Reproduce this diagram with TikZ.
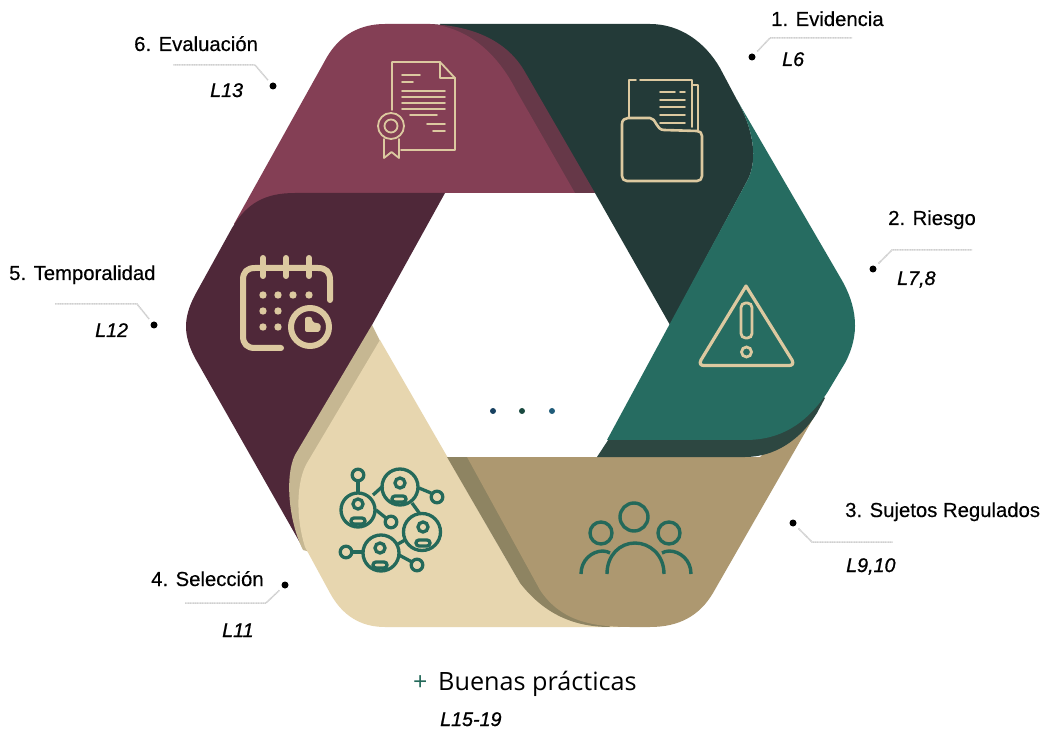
\documentclass[tikz,border=0pt]{standalone}
\usepackage{fontspec}
\setmainfont[FakeBold=0.3]{Liberation Sans}
\newfontfamily\reffont[ItalicFeatures={FakeBold=0.9}]{Liberation Sans}
\newfontfamily\buenasfont{Open Sans}
\definecolor{cdark}{HTML}{233A38}
\definecolor{cmaroon}{HTML}{843F55}
\definecolor{cmaroonsh}{HTML}{663848}
\definecolor{cplum}{HTML}{4F2839}
\definecolor{ccream}{HTML}{E7D6AF}
\definecolor{ccreamsh}{HTML}{C6B792}
\definecolor{ctan}{HTML}{AD9870}
\definecolor{ctansh}{HTML}{8E8462}
\definecolor{cteal}{HTML}{266C61}
\definecolor{ctealsh}{HTML}{2D4741}
\definecolor{cicon}{HTML}{DCC9A0}
\definecolor{cgreen}{HTML}{24695A}
\definecolor{cleader}{HTML}{CFCFCF}
\tikzset{
  iconthin/.style={draw=cicon,line width=1.8pt,line cap=round,line join=round},
  iconmid/.style={draw=cicon,line width=2.6pt,line cap=round,line join=round},
  iconfat/.style={draw=cicon,line width=6pt,line cap=round,line join=round},
  greenline/.style={draw=cgreen,line width=3.4pt,line cap=butt,line join=round},
  netline/.style={draw=cgreen,line width=3.3pt},
  mark dot/.style={circle,fill=black,inner sep=0pt,minimum size=7pt},
  leaderline/.style={draw=cleader,line width=1.5pt,shorten <=4pt,dash pattern=on 1.2pt off 0.5pt},
  lbl/.style={anchor=base west,inner sep=0pt,font=\fontsize{20.3}{24}\selectfont},
  ref/.style={anchor=base west,inner sep=0pt,font=\reffont\fontsize{19.7}{24}\selectfont\itshape},
}
\begin{document}
\begin{tikzpicture}[x=1pt,y=-1pt]
\useasboundingbox (0,0) rectangle (1045,735);
\fill[white] (0,0) rectangle (1045,735);
% dark band
\fill[cdark] (440,24) -- (650,24) .. controls (680,24) and (705,42) .. (720,68) -- (737,100)
  .. controls (752,126) and (760,160) .. (746,183) -- (670,325) -- (595,193) -- (500,150) -- cycle;
% maroon band
\fill[cmaroonsh] (430,24) .. controls (475,26) and (508,42) .. (525,72) -- (595,193) -- (500,193) -- (430,100) -- cycle;
\fill[cmaroon] (234,224) -- (327,57) .. controls (340,35) and (360,24) .. (385,24) -- (430,24)
  .. controls (470,28) and (498,55) .. (516,90) -- (575,193) -- (350,193) -- (350,230) -- cycle;
% plum band
\fill[cplum] (445,193) -- (295,193) .. controls (265,193) and (247,203) .. (232,228) -- (195,295)
  .. controls (183,318) and (183,335) .. (195,358) -- (303,548) -- (340,500) -- (372,325) -- cycle;
% cream band
\fill[ccreamsh] (372,325) -- (295,455) .. controls (285,475) and (288,520) .. (303,550) -- (340,560) -- (420,420) -- cycle;
\fill[ccream] (380,340) -- (307,463) .. controls (297,480) and (295,515) .. (305,547) -- (330,593)
  .. controls (342,615) and (360,627) .. (385,627) -- (620,627) -- (540,590) -- (520,583) -- cycle;
% tan band
\fill[ctansh] (447,457) -- (500,457) -- (560,560) -- (610,627) .. controls (575,627) and (545,615) .. (520,583) -- cycle;
\fill[ctan] (467,457) -- (760,457) -- (822,403) -- (713,593) .. controls (700,615) and (680,627) .. (650,627)
  -- (630,627) .. controls (590,627) and (560,620) .. (540,590) -- cycle;
% teal band
\fill[ctealsh] (597,457) -- (745,457) .. controls (775,457) and (800,440) .. (817,413) -- (825,398) -- (700,300) -- cycle;
\fill[cteal] (607,440) -- (746,183) .. controls (760,160) and (752,126) .. (737,100) -- (840,277)
  .. controls (858,307) and (860,335) .. (845,363) -- (827,393) .. controls (805,425) and (780,440) .. (745,440) -- cycle;
% certificate icon
\draw[iconthin] (392,110) -- (392,62) -- (440,62) -- (455,78) -- (455,150) -- (401,150);
\draw[iconthin] (440,62) -- (440,78) -- (455,78);
\foreach \yy/\xa/\xb in {75/402/420,82/402/413,91/402/445,97/402/445,103/402/445,109/402/445,115/410/437,124/427/445,131/433/445}
  \draw[iconthin] (\xa,\yy) -- (\xb,\yy);
\draw[iconthin] (391,126) circle (13);
\draw[iconthin] (391,126) circle (6.5);
\draw[iconthin] (384,139) -- (384,158) -- (391.5,152) -- (399,158) -- (399,139);
% folder icon
\draw[iconthin] (629,117) -- (629,80) -- (636,80);
\draw[iconthin] (640,80) -- (692,80) -- (692,127);
\draw[iconthin] (693,85) -- (698,85) -- (698,130);
\foreach \yy in {100,107,115,123} \draw[iconthin] (660,\yy) -- (685,\yy);
\draw[iconthin] (660,92) -- (675,92) (680,92) -- (685,92);
\draw[iconmid] (628,118) -- (650,118) .. controls (656,118) and (656,130) .. (664,130) -- (697,131)
  .. controls (700,131) and (702,133) .. (702,136) -- (702,176) .. controls (702,179) and (700,181) .. (697,181)
  -- (627,181) .. controls (624,181) and (622,179) .. (622,176) -- (622,124) .. controls (622,120) and (625,118) .. (628,118) -- cycle;
% warning icon
\draw[draw=cicon,line width=3.2pt,line join=round] (746,286) -- (792,360) .. controls (794,364) and (792,365.5) .. (789,365.5) -- (704,365.5) .. controls (701,365.5) and (699,364) .. (701,360) -- cycle;
\draw[draw=cicon,line width=2.8pt,rounded corners=4.5pt] (741,303) rectangle (752,338);
\draw[draw=cicon,line width=2.8pt] (746.5,352) circle (5);
% calendar icon
\draw[iconfat] (330,300) -- (330,280) .. controls (330,272) and (326,268) .. (318,268) -- (255,268)
  .. controls (247,268) and (243,272) .. (243,280) -- (243,336) .. controls (243,344) and (247,348) .. (255,348) -- (281,348);
\foreach \xx in {263,286,309} \draw[iconfat] (\xx,258) -- (\xx,276);
\foreach \xx/\yy in {263/295,278/295,293/295,309/295,263/311,278/311,263/327,278/327}
  \fill[cicon] (\xx,\yy) circle (3.7);
\draw[iconfat] (310,327) circle (19);
\fill[cicon,rounded corners=2pt] (305,317) -- (312,317) -- (312,322) -- (321,324) -- (320,332) -- (305,332) -- cycle;
% people icon
\draw[greenline] (634,517) circle (14);
\draw[greenline] (601,533) circle (11);
\draw[greenline] (669,533) circle (11);
\draw[greenline] (607,574) .. controls (607,555) and (620,543) .. (635,543) .. controls (650,543) and (664,555) .. (664,574);
\draw[greenline] (581,574) .. controls (581,560) and (592,551) .. (603,551) .. controls (606,551) and (608,552) .. (610,553);
\draw[greenline] (662,553) .. controls (664,552) and (666,551) .. (669,551) .. controls (680,551) and (691,560) .. (691,574);
% network icon
\foreach \xa/\ya/\xb/\yb in {358/481/358/493,373/495/383/486,419/488/431/493,412/503/420/514,376/510/386/518,352/552/363/552,398/544/405/540,399/555/412/562}
  \draw[netline] (\xa,\ya) -- (\xb,\yb);
\foreach \xx/\yy/\rr in {358/510/17,400/487/18,422/532/18.5,381/553/18} \draw[netline] (\xx,\yy) circle (\rr);
\foreach \xx/\yy in {358/475,437/497,391/522,346/552,417/565} \draw[netline] (\xx,\yy) circle (5.8);
\foreach \xx/\yy in {358/504,400/483,423/527,380/548} \draw[netline] (\xx,\yy) circle (5);
\foreach \xx/\yy in {358/521,399/499,423/543,380/565} \draw[netline,rounded corners=3pt] (\xx-7,\yy-3) rectangle (\xx+7,\yy+3);
% center dots
\fill[black!30!cteal!85!blue] (493,411) circle (3);
\fill[cgreen!70!black] (522,411) circle (3);
\fill[cteal!85!blue] (552,411) circle (3);
% callout dots and leaders
\node[mark dot] (d1) at (752,57) {};
\node[mark dot] (d2) at (873,269) {};
\node[mark dot] (d3) at (793,523) {};
\node[mark dot] (d4) at (285,585) {};
\node[mark dot] (d5) at (154,325) {};
\node[mark dot] (d6) at (273,86) {};
\coordinate (a1) at (770,38); \coordinate (b1) at (852,38);
\coordinate (a2) at (892,250); \coordinate (b2) at (972,250);
\coordinate (a3) at (812,542); \coordinate (b3) at (893,542);
\coordinate (a4) at (266,603); \coordinate (b4) at (185,603);
\coordinate (a5) at (137,304); \coordinate (b5) at (55,304);
\coordinate (a6) at (255,65); \coordinate (b6) at (173,65);
\foreach \i in {1,...,6} \draw[leaderline] (d\i) -- (a\i) -- (b\i);
% labels
\node[lbl] (t1) at (771,26) {1. Evidencia};
\node[ref] (r1) at (782,66) {L6};
\node[lbl] (t2) at (888,225) {2. Riesgo};
\node[ref] (r2) at (897,285) {L7,8};
\node[lbl] (t3) at (845,517) {3. Sujetos Regulados};
\node[ref] (r3) at (846,572) {L9,10};
\node[lbl] (t4) at (151,586) {4. Selección};
\node[ref] (r4) at (222,637) {L11};
\node[lbl] (t5) at (9,280) {5. Temporalidad};
\node[ref] (r5) at (95,337) {L12};
\node[lbl] (t6) at (134,51) {6. Evaluación};
\node[ref] (r6) at (210,97) {L13};
\node[anchor=base west,inner sep=0pt,text=cgreen,font=\buenasfont\fontsize{25}{28}\selectfont] (plus) at (413,690) {+};
\node[anchor=base west,inner sep=0pt,font=\buenasfont\fontsize{25.2}{28}\selectfont] (t7) at (438,690) {Buenas prácticas};
\node[ref] (r7) at (440,726) {L15-19};
\end{tikzpicture}
\end{document}
